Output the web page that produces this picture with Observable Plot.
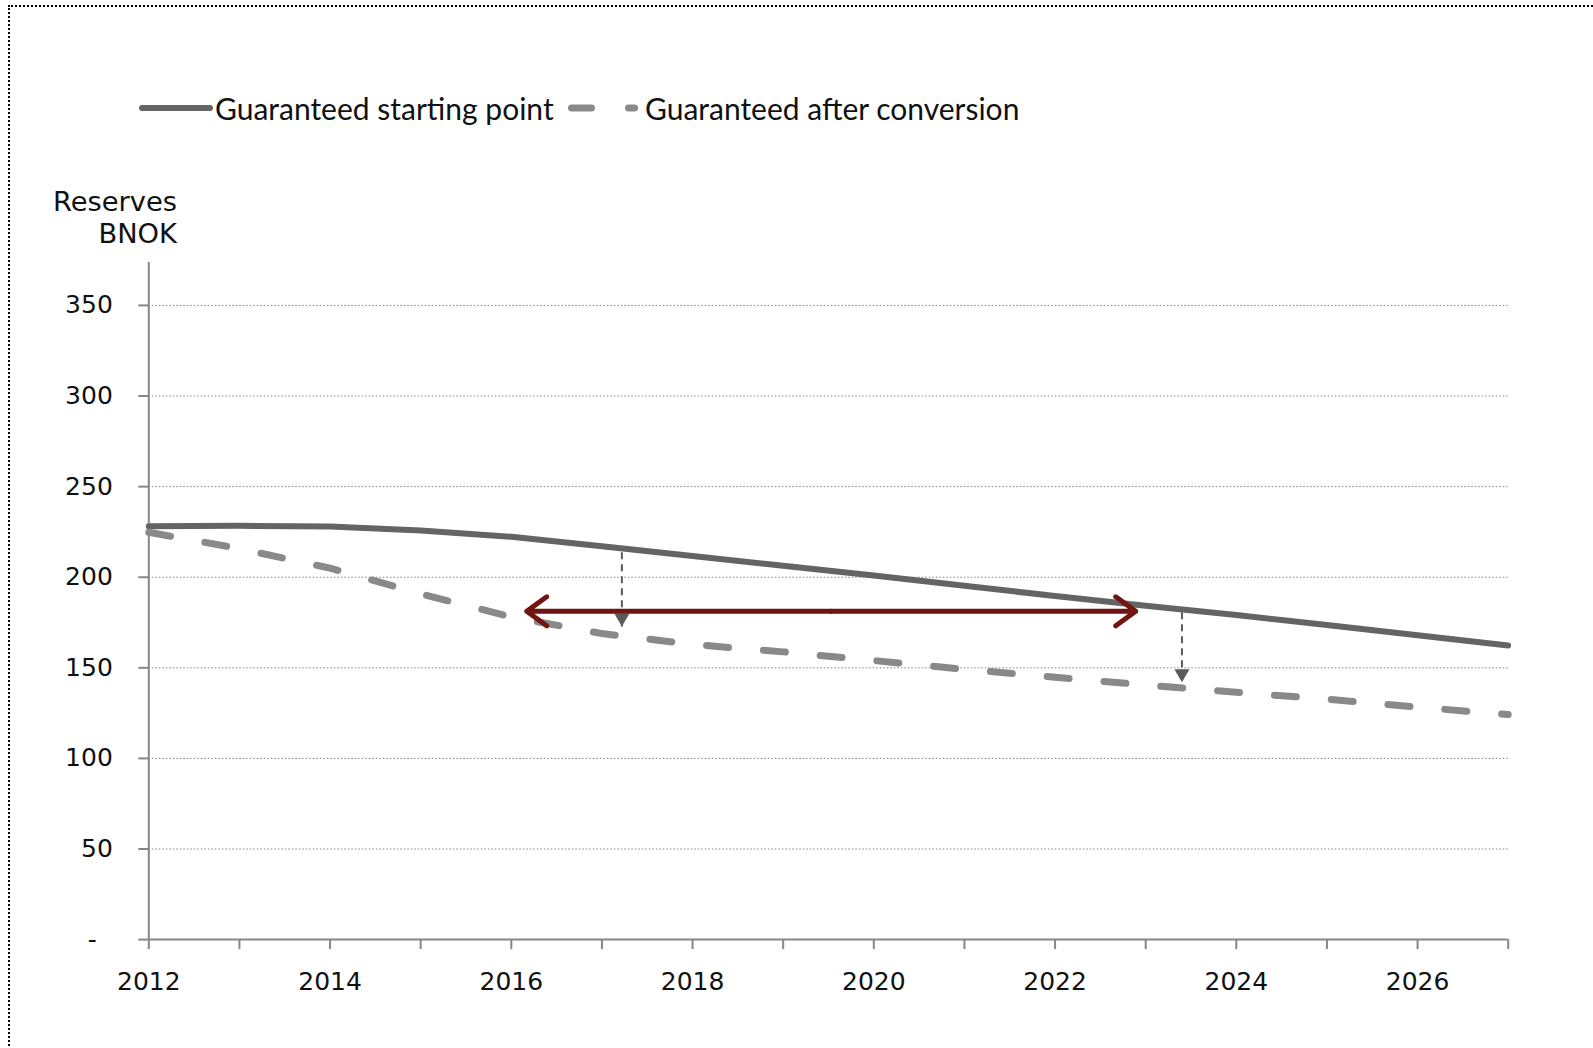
<!DOCTYPE html>
<html>
<head>
<meta charset="utf-8">
<script src="https://cdn.jsdelivr.net/npm/d3@7"></script>
<script src="https://cdn.jsdelivr.net/npm/@observablehq/plot@0.6"></script>
<style>
  html, body { margin: 0; padding: 0; background: #fff; }
  #page { position: relative; width: 1593px; height: 1048px; overflow: hidden; font-family: Lato, "Open Sans", sans-serif; color: #111; }
  #frame { position: absolute; left: 8px; top: 5px; width: 1700px; height: 1200px; border-top: 2px dotted #000; border-left: 2px dotted #000; box-sizing: border-box; }
  .lg-text { position: absolute; font-size: 30px; line-height: 1; white-space: nowrap; transform: translateY(-50%); }
  .lg-sw { position: absolute; }
  .ylab { position: absolute; font-family: "DejaVu Sans", Verdana, sans-serif; font-size: 27.3px; line-height: 1; text-align: right; white-space: nowrap; transform: translateY(-50%); }
  #chart { position: absolute; left: 0; top: 250px; }
</style>
</head>
<body>
<div id="page">
  <div id="frame"></div>
  <div id="chart"></div>
</div>
<script>
// ---- data ----
const years = [2012, 2013, 2014, 2015, 2016, 2017, 2018, 2019, 2020, 2021, 2022, 2023, 2024, 2025, 2026, 2027];
const startingPoint = [228.1, 228.4, 228.0, 225.8, 222.3, 217.1, 211.7, 206.3, 200.9, 195.3, 189.6, 184.3, 179.1, 173.6, 168.0, 162.3];
const afterConversion = [224.8, 215.8, 205.0, 190.8, 178.1, 168.9, 162.9, 158.8, 154.0, 149.2, 144.8, 140.5, 136.5, 132.7, 128.3, 124.2];
const seriesNames = ["Guaranteed starting point", "Guaranteed after conversion"];
const yTicks = [0, 50, 100, 150, 200, 250, 300, 350];
const xLabelYears = [2012, 2014, 2016, 2018, 2020, 2022, 2024, 2026];
const yTitle = ["Reserves", "BNOK"];
// annotations
const shiftYears = [2016.17, 2022.89];
const shiftLevel = 181.2;
const dropYears = [2017.22, 2023.40];
const dropFrom = [213.8, 180.7];
const dropTo = [172.8, 142.0];

// ---- build ----
const solid = years.map((x, i) => ({x, y: startingPoint[i]}));
const dashed = years.map((x, i) => ({x, y: afterConversion[i]}));
const mid = (shiftYears[0] + shiftYears[1]) / 2;
const shifts = shiftYears.map(x => ({x1: mid, x2: x, y: shiftLevel}));
const drops = dropYears.map((x, i) => ({x, from: dropFrom[i], to: dropTo[i]}));

const axisColor = "#878787";
const tickFont = "'DejaVu Sans', Verdana, sans-serif";
const chart = Plot.plot({
  width: 1593,
  height: 798,
  marginLeft: 148.3,
  marginRight: 85.3,
  marginTop: 12,
  marginBottom: 108.9,
  x: {domain: [2012, 2027]},
  y: {domain: [0, 373.7]},
  style: {fontFamily: tickFont, color: "#111", background: "transparent"},
  marks: [
    Plot.gridY(yTicks.filter(d => d > 0), {stroke: "#808080", strokeOpacity: 1, strokeWidth: 1, strokeDasharray: "1.5,2"}),
    Plot.ruleX([2012], {stroke: axisColor, strokeWidth: 2}),
    Plot.ruleY([0], {stroke: axisColor, strokeWidth: 2}),
    Plot.axisY(yTicks, {tickSize: 10, tickPadding: 26, stroke: axisColor, strokeWidth: 2, fill: "#111", fontSize: 25,
      tickFormat: d => d === 0 ? "-\u2007" : String(d), label: null}),
    Plot.axisX(years, {tickSize: 10, tickPadding: 23, stroke: axisColor, strokeWidth: 2, fill: "#111", fontSize: 25,
      tickFormat: d => xLabelYears.includes(d) ? String(d) : "", label: null}),
    Plot.line(solid, {x: "x", y: "y", stroke: "#646464", strokeWidth: 6, strokeLinecap: "round"}),
    Plot.line(dashed, {x: "x", y: "y", stroke: "#898989", strokeWidth: 7, strokeLinecap: "round", strokeDasharray: "22,35"}),
    Plot.link(drops, {x1: "x", x2: "x", y1: "from", y2: "to", stroke: "#5a5a5a", strokeWidth: 2, strokeDasharray: "7,5"}),
    Plot.dot(drops, {x: "x", y: "to", symbol: "triangle", r: 5.6, rotate: 180, fill: "#5a5a5a", stroke: "none", dy: -8.7}),
    Plot.arrow(shifts, {x1: "x1", x2: "x2", y1: "y", y2: "y", stroke: "#701511", strokeWidth: 5, headLength: 7.4, headAngle: 72})
  ]
});
document.getElementById("chart").appendChild(chart);

// ---- legend ----
const page = document.getElementById("page");
const legendY = 107.7;
function addSwatch(left, width, draw) {
  const svg = d3.create("svg").attr("class", "lg-sw").attr("width", width).attr("height", 20)
    .style("left", left + "px").style("top", (legendY - 10) + "px");
  draw(svg);
  page.appendChild(svg.node());
}
addSwatch(139, 74, s => s.append("line").attr("x1", 3).attr("x2", 71).attr("y1", 10).attr("y2", 10)
  .attr("stroke", "#646464").attr("stroke-width", 6).attr("stroke-linecap", "round"));
addSwatch(566, 76, s => {
  s.append("line").attr("x1", 5.5).attr("x2", 25.5).attr("y1", 10).attr("y2", 10)
    .attr("stroke", "#898989").attr("stroke-width", 7).attr("stroke-linecap", "round");
  s.append("line").attr("x1", 62.5).attr("x2", 68.5).attr("y1", 10).attr("y2", 10)
    .attr("stroke", "#898989").attr("stroke-width", 7).attr("stroke-linecap", "round");
});
[[215, seriesNames[0]], [645, seriesNames[1]]].forEach(([left, t]) => {
  const d = document.createElement("div");
  d.className = "lg-text"; d.style.left = left + "px"; d.style.top = legendY + "px"; d.textContent = t;
  page.appendChild(d);
});
[[202, yTitle[0]], [234, yTitle[1]]].forEach(([top, t]) => {
  const d = document.createElement("div");
  d.className = "ylab"; d.style.right = (1593 - 177) + "px"; d.style.top = top + "px"; d.textContent = t;
  page.appendChild(d);
});
</script>
</body>
</html>
